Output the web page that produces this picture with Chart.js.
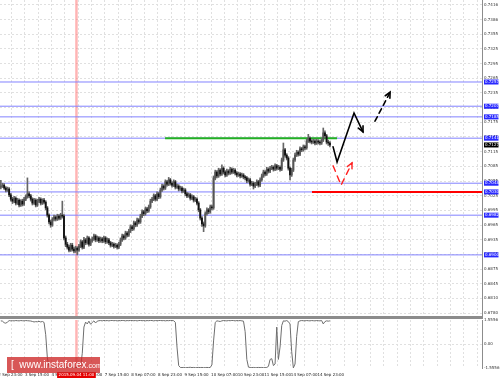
<!DOCTYPE html>
<html>
<head>
<meta charset="utf-8">
<script src="https://cdn.jsdelivr.net/npm/chart.js@4.4.1/dist/chart.umd.min.js"></script>
<style>
  html, body { margin: 0; padding: 0; background: #fff; }
  #wrap { position: relative; width: 500px; height: 378px; overflow: hidden; background: #fff; }
  #main { position: absolute; left: 0; top: 0; }
  #ind { position: absolute; left: 0; top: 318px; }
  #sep { position: absolute; left: 0; top: 316px; width: 483px; height: 3px; background: #8c8c8c; }
  #logo {
    position: absolute; left: 7px; top: 357px; width: 93px; height: 16px;
    background: rgba(205, 40, 40, 0.78); color: #fff;
    font: 10px "Liberation Sans", sans-serif; line-height: 16px; white-space: nowrap;
    box-sizing: border-box; padding-left: 4px;
  }
  #logo small { font-size: 7px; }
</style>
</head>
<body>
<div id="wrap">
  <canvas id="main" width="500" height="316"></canvas>
  <canvas id="ind" width="500" height="60"></canvas>
  <div id="sep"></div>
  <div id="logo">[ &nbsp;www.instaforex<small>.com</small> ]</div>
</div>
<script>
// H1 bars, AUDUSD-like, 2 Sep 23:00 .. 15 Sep
const timeLabels = ["2 Sep 23:00", "3 Sep 15:00", "4 Sep 07:00", "4 Sep 23:00", "7 Sep 15:00", "8 Sep 07:00",
  "8 Sep 23:00", "9 Sep 15:00", "10 Sep 07:00", "10 Sep 23:00", "11 Sep 15:00", "14 Sep 07:00", "14 Sep 23:00"];

const yTickLabels = ["0.6780", "0.6810", "0.6845", "0.6875", "0.6905", "0.6935", "0.6965", "0.6995", "0.7025", "0.7055",
  "0.7085", "0.7115", "0.7145", "0.7175", "0.7205", "0.7235", "0.7265", "0.7295", "0.7325", "0.7355", "0.7386", "0.7416"];

const firstOpen = 0.7040;
const closes = [
  0.7042, 0.7044, 0.7038, 0.7034, 0.7036, 0.7024, 0.7015, 0.7011, 0.7017, 0.7007,
  0.7013, 0.7003, 0.7011, 0.7005, 0.7015, 0.7020, 0.7026, 0.7022, 0.7015, 0.7007,
  0.7013, 0.7003, 0.7011, 0.7015, 0.7007, 0.7013, 0.7009, 0.6997, 0.6982, 0.6968,
  0.6962, 0.6974, 0.6978, 0.6974, 0.6980, 0.6976, 0.6982, 0.6980, 0.6935, 0.6922,
  0.6916, 0.6910, 0.6920, 0.6912, 0.6908, 0.6914, 0.6910, 0.6918, 0.6927, 0.6916,
  0.6931, 0.6925, 0.6935, 0.6922, 0.6929, 0.6933, 0.6939, 0.6931, 0.6935, 0.6929,
  0.6933, 0.6929, 0.6935, 0.6927, 0.6931, 0.6925, 0.6920, 0.6922, 0.6918, 0.6920,
  0.6916, 0.6922, 0.6931, 0.6939, 0.6935, 0.6945, 0.6941, 0.6949, 0.6958, 0.6954,
  0.6966, 0.6962, 0.6972, 0.6968, 0.6980, 0.6989, 0.6985, 0.6995, 0.6991, 0.6999,
  0.7011, 0.7015, 0.7022, 0.7015, 0.7026, 0.7020, 0.7034, 0.7042, 0.7038, 0.7051,
  0.7046, 0.7055, 0.7048, 0.7044, 0.7051, 0.7040, 0.7042, 0.7036, 0.7038, 0.7032,
  0.7034, 0.7026, 0.7022, 0.7024, 0.7017, 0.7020, 0.7013, 0.7015, 0.7007, 0.6993,
  0.6976, 0.6964, 0.6960, 0.6985, 0.6993, 0.6989, 0.6999, 0.6997, 0.7059, 0.7071,
  0.7063, 0.7075, 0.7067, 0.7079, 0.7071, 0.7065, 0.7073, 0.7069, 0.7077, 0.7071,
  0.7075, 0.7069, 0.7065, 0.7067, 0.7063, 0.7065, 0.7061, 0.7059, 0.7053, 0.7055,
  0.7046, 0.7048, 0.7042, 0.7046, 0.7051, 0.7044, 0.7055, 0.7063, 0.7071, 0.7067,
  0.7077, 0.7073, 0.7079, 0.7081, 0.7077, 0.7084, 0.7079, 0.7081, 0.7077, 0.7096,
  0.7117, 0.7106, 0.7100, 0.7079, 0.7065, 0.7075, 0.7096, 0.7106, 0.7112, 0.7108,
  0.7119, 0.7117, 0.7123, 0.7121, 0.7135, 0.7141, 0.7135, 0.7133, 0.7135, 0.7131,
  0.7135, 0.7133, 0.7131, 0.7137, 0.7152, 0.7146, 0.7133, 0.7131, 0.7127
];
const highs = [
  0.7054, 0.7048, 0.7047, 0.7041, 0.7040, 0.7039, 0.7027, 0.7019, 0.7021, 0.7020,
  0.7017, 0.7016, 0.7014, 0.7015, 0.7019, 0.7024, 0.7059, 0.7030, 0.7025, 0.7018,
  0.7017, 0.7016, 0.7015, 0.7019, 0.7018, 0.7016, 0.7017, 0.7012, 0.7000, 0.6985,
  0.6972, 0.6977, 0.6982, 0.6981, 0.6984, 0.6983, 0.6986, 0.7011, 0.6983, 0.6939,
  0.6926, 0.6920, 0.6924, 0.6924, 0.6916, 0.6918, 0.6917, 0.6922, 0.6931, 0.6930,
  0.6936, 0.6934, 0.6939, 0.6938, 0.6933, 0.6937, 0.6943, 0.6942, 0.6939, 0.6938,
  0.6937, 0.6936, 0.6939, 0.6938, 0.6935, 0.6934, 0.6928, 0.6926, 0.6925, 0.6924,
  0.6923, 0.6926, 0.6935, 0.6943, 0.6942, 0.6949, 0.6948, 0.6953, 0.6962, 0.6961,
  0.6970, 0.6969, 0.6976, 0.6975, 0.6984, 0.6993, 0.6992, 0.6999, 0.6998, 0.7003,
  0.7015, 0.7019, 0.7026, 0.7025, 0.7030, 0.7029, 0.7038, 0.7046, 0.7045, 0.7055,
  0.7054, 0.7060, 0.7058, 0.7051, 0.7055, 0.7054, 0.7046, 0.7045, 0.7042, 0.7041,
  0.7038, 0.7037, 0.7029, 0.7028, 0.7027, 0.7024, 0.7023, 0.7019, 0.7018, 0.7010,
  0.6996, 0.6979, 0.6968, 0.6989, 0.6997, 0.6996, 0.7003, 0.7003, 0.7063, 0.7075,
  0.7074, 0.7079, 0.7078, 0.7086, 0.7082, 0.7074, 0.7077, 0.7076, 0.7081, 0.7080,
  0.7079, 0.7078, 0.7072, 0.7071, 0.7070, 0.7069, 0.7068, 0.7064, 0.7062, 0.7059,
  0.7058, 0.7052, 0.7051, 0.7050, 0.7055, 0.7054, 0.7059, 0.7067, 0.7075, 0.7074,
  0.7081, 0.7080, 0.7083, 0.7085, 0.7084, 0.7088, 0.7087, 0.7085, 0.7084, 0.7100,
  0.7131, 0.7120, 0.7109, 0.7103, 0.7082, 0.7079, 0.7100, 0.7110, 0.7116, 0.7115,
  0.7123, 0.7122, 0.7127, 0.7126, 0.7139, 0.7149, 0.7144, 0.7138, 0.7139, 0.7138,
  0.7139, 0.7138, 0.7136, 0.7141, 0.7162, 0.7156, 0.7149, 0.7137, 0.7134
];
const lows = [
  0.7036, 0.7039, 0.7035, 0.7030, 0.7031, 0.7020, 0.7011, 0.7006, 0.7008, 0.7003,
  0.7004, 0.6999, 0.7000, 0.7001, 0.7002, 0.7012, 0.7017, 0.7018, 0.7011, 0.7003,
  0.7004, 0.6999, 0.7000, 0.7008, 0.7003, 0.7004, 0.7005, 0.6993, 0.6978, 0.6964,
  0.6957, 0.6959, 0.6970, 0.6970, 0.6971, 0.6972, 0.6973, 0.6976, 0.6931, 0.6917,
  0.6912, 0.6906, 0.6907, 0.6908, 0.6904, 0.6905, 0.6900, 0.6907, 0.6915, 0.6912,
  0.6913, 0.6921, 0.6922, 0.6918, 0.6919, 0.6926, 0.6930, 0.6927, 0.6928, 0.6925,
  0.6926, 0.6925, 0.6926, 0.6923, 0.6924, 0.6921, 0.6916, 0.6917, 0.6914, 0.6915,
  0.6912, 0.6913, 0.6919, 0.6928, 0.6931, 0.6932, 0.6937, 0.6938, 0.6946, 0.6950,
  0.6951, 0.6958, 0.6959, 0.6964, 0.6965, 0.6977, 0.6981, 0.6982, 0.6987, 0.6988,
  0.6996, 0.7008, 0.7012, 0.7011, 0.7012, 0.7016, 0.7017, 0.7031, 0.7034, 0.7035,
  0.7042, 0.7043, 0.7044, 0.7040, 0.7041, 0.7036, 0.7037, 0.7032, 0.7033, 0.7028,
  0.7029, 0.7022, 0.7018, 0.7019, 0.7013, 0.7014, 0.7009, 0.7010, 0.7003, 0.6989,
  0.6972, 0.6959, 0.6948, 0.6957, 0.6982, 0.6985, 0.6986, 0.6993, 0.6994, 0.7055,
  0.7059, 0.7060, 0.7063, 0.7064, 0.7067, 0.7061, 0.7062, 0.7065, 0.7066, 0.7067,
  0.7068, 0.7065, 0.7061, 0.7062, 0.7059, 0.7060, 0.7057, 0.7055, 0.7049, 0.7050,
  0.7042, 0.7043, 0.7036, 0.7039, 0.7043, 0.7040, 0.7041, 0.7052, 0.7060, 0.7063,
  0.7064, 0.7069, 0.7070, 0.7076, 0.7073, 0.7074, 0.7075, 0.7076, 0.7073, 0.7074,
  0.7093, 0.7102, 0.7096, 0.7075, 0.7055, 0.7062, 0.7072, 0.7093, 0.7103, 0.7104,
  0.7105, 0.7113, 0.7114, 0.7117, 0.7118, 0.7132, 0.7131, 0.7129, 0.7130, 0.7127,
  0.7128, 0.7129, 0.7127, 0.7128, 0.7134, 0.7142, 0.7129, 0.7126, 0.7123
];
const opens = [firstOpen].concat(closes.slice(0, -1));

// lower panel oscillator
const indValues = [
  1.50, 1.48, 1.38, 1.35, 1.42, 1.52, 1.50, 1.51, 1.50, 1.52,
  1.51, 1.50, 1.52, 1.51, 1.50, 1.52, 1.51, 1.50, 1.49, 1.46,
  1.43, 1.45, 1.44, 1.47, 1.43, 1.46, 1.40, 0.60, -0.90, -1.48,
  -1.53, -1.52, -1.54, -1.52, -1.53, -1.54, -1.52, -1.53, -1.52, -1.54,
  -1.53, -1.52, -1.53, -1.54, -1.52, -1.53, -1.52, -1.53, -1.50, -0.60,
  1.10, 1.42, 1.30, 1.48, 1.28, 1.40, 1.50, 1.36, 1.48, 1.51,
  1.52, 1.50, 1.53, 1.51, 1.52, 1.50, 1.52, 1.53, 1.51, 1.52,
  1.50, 1.52, 1.51, 1.53, 1.52, 1.50, 1.52, 1.51, 1.53, 1.52,
  1.51, 1.52, 1.50, 1.52, 1.53, 1.51, 1.52, 1.50, 1.52, 1.51,
  1.53, 1.52, 1.50, 1.52, 1.51, 1.52, 1.53, 1.51, 1.52, 1.50,
  1.52, 1.51, 1.53, 1.52, 1.51, 1.40, -0.20, -1.40, -1.52, -1.53,
  -1.52, -1.54, -1.53, -1.52, -1.51, -1.53, -1.52, -1.54, -1.53, -1.52,
  -1.53, -1.52, -1.54, -1.53, -1.52, -1.53, -1.52, -1.35, 0.20, 1.40,
  1.50, 1.48, 1.46, 1.50, 1.52, 1.51, 1.50, 1.52, 1.51, 1.53,
  1.52, 1.50, 1.52, 1.51, 1.52, 1.50, 1.48, 0.80, -1.00, -1.50,
  -1.52, -1.53, -1.52, -1.54, -1.53, -1.52, -1.53, -1.52, -1.54, -1.53,
  -1.52, -1.45, -1.00, -0.95, -1.40, -1.30, 1.10, -1.00, -0.20, 1.20,
  1.50, 1.48, 1.52, 1.45, 1.30, -0.50, -1.55, -1.30, 0.50, 1.45,
  1.50, 1.52, 1.51, 1.50, 1.52, 1.51, 1.50, 1.52, 1.51, 1.50,
  1.52, 1.51, 1.50, 1.52, 1.30, 1.45, 1.50, 1.48, 1.50
];
const indTickVals = [-1.5556, 0, 1.5556];
const indTickLabels = ["-1.5556", "0.00", "1.5556"];

// horizontal levels (blue), trend lines and forecast arrows
const levelValues = [0.7257, 0.7207, 0.7185, 0.7141, 0.7048, 0.7030, 0.6982, 0.6900];
const lastPrice = 0.7127;
const greenLine = [[98.8, 0.7141], [202.3, 0.7141]];
const redLine = [[187.2, 0.7030], [289.5, 0.7030]];
const mainPath = [[199.9, 0.7123], [202.3, 0.7092], [212.5, 0.7193], [217.9, 0.7154]];
const nextPath = [[225.1, 0.7176], [234.2, 0.7236]];
const altPath = [[199.9, 0.7084], [204.7, 0.7044], [211.3, 0.7090]];
const crosshairIdx = 45.5;
const crosshairText = "2015.09.04 11:00";

const slotMin = -0.5, slotMax = 289.5;
const gridIdx = [];
for (let v = -1.5; v < slotMax; v += 8) gridIdx.push(v);
const yStep = (0.7416 - 0.6780) / 21;
const yTickVals = yTickLabels.map((t, k) => 0.6780 + k * yStep);

const tinyFont = { family: "DejaVu Sans", size: 4 };
const gridColor = "#e0e0e0";

function arrowPath(ctx, xs, ys, pts, color, width, dash) {
  const p = pts.map(([i, v]) => [xs.getPixelForValue(i), ys.getPixelForValue(v)]);
  ctx.save();
  ctx.strokeStyle = color;
  ctx.lineWidth = width;
  ctx.lineCap = "round";
  ctx.setLineDash(dash);
  ctx.beginPath();
  p.forEach(([px, py], k) => (k ? ctx.lineTo(px, py) : ctx.moveTo(px, py)));
  ctx.stroke();
  const [x1, y1] = p[p.length - 2];
  const [x2, y2] = p[p.length - 1];
  const a = Math.atan2(y2 - y1, x2 - x1);
  const L = 6;
  ctx.setLineDash([]);
  ctx.beginPath();
  ctx.moveTo(x2 - L * Math.cos(a - 0.45), y2 - L * Math.sin(a - 0.45));
  ctx.lineTo(x2, y2);
  ctx.lineTo(x2 - L * Math.cos(a + 0.45), y2 - L * Math.sin(a + 0.45));
  ctx.stroke();
  ctx.restore();
}

function crosshair(chart) {
  const { ctx, chartArea, scales: { x } } = chart;
  const px = x.getPixelForValue(crosshairIdx);
  ctx.save();
  ctx.strokeStyle = "rgba(255, 120, 120, 0.55)";
  ctx.lineWidth = 2.5;
  ctx.beginPath();
  ctx.moveTo(px, chartArea.top);
  ctx.lineTo(px, chartArea.bottom);
  ctx.stroke();
  ctx.restore();
}

const mainDecor = {
  id: "mainDecor",
  beforeDatasetsDraw: crosshair,
  afterDatasetsDraw(chart) {
    const { ctx, scales: { x, y } } = chart;
    arrowPath(ctx, x, y, mainPath, "#000", 1.6, []);
    arrowPath(ctx, x, y, nextPath, "#000", 1.6, [5, 4]);
    arrowPath(ctx, x, y, altPath, "#ff2020", 1.4, [6, 5]);
  },
  afterDraw(chart) {
    const { ctx, scales: { y } } = chart;
    ctx.save();
    ctx.font = "4px 'DejaVu Sans'";
    ctx.textBaseline = "middle";
    levelValues.forEach(v => {
      const py = y.getPixelForValue(v);
      ctx.fillStyle = "#2828ff";
      ctx.fillRect(484, py - 2.5, 14.5, 5);
      ctx.fillStyle = "#fff";
      ctx.fillText(v.toFixed(4), 485, py);
    });
    const pl = y.getPixelForValue(lastPrice);
    ctx.fillStyle = "#000";
    ctx.fillRect(484, pl - 2.5, 14.5, 5);
    ctx.fillStyle = "#fff";
    ctx.fillText(lastPrice.toFixed(4), 485, pl);
    ctx.restore();
  }
};

const lineSet = (pts, color, width, order) => ({
  type: "line",
  data: pts.map(([i, v]) => ({ x: i, y: v })),
  borderColor: color,
  borderWidth: width,
  pointRadius: 0,
  order: order
});

const levelSets = levelValues.map(v => lineSet([[slotMin, v], [slotMax, v]], "#8282ff", 1, 6));

new Chart(document.getElementById("main"), {
  type: "bar",
  data: {
    datasets: [
      ...levelSets,
      lineSet(greenLine, "#22b022", 2, 3),
      lineSet(redLine, "#ff0000", 2, 3),
      {
        data: closes.map((c, i) => ({ x: i, y: [lows[i], highs[i]] })),
        backgroundColor: "#666",
        barThickness: 1,
        grouped: false,
        order: 2
      },
      {
        data: closes.map((c, i) => ({ x: i, y: [opens[i], c] })),
        backgroundColor: closes.map((c, i) => (c >= opens[i] ? "#555" : "#111")),
        barThickness: 1.2,
        minBarLength: 1,
        grouped: false,
        order: 1
      }
    ]
  },
  options: {
    responsive: false,
    animation: false,
    layout: { padding: 0 },
    plugins: { legend: { display: false }, tooltip: { enabled: false } },
    scales: {
      x: {
        type: "linear",
        min: slotMin,
        max: slotMax,
        offset: false,
        afterBuildTicks: a => { a.ticks = gridIdx.map(v => ({ value: v })); },
        ticks: { display: false },
        grid: { color: gridColor, drawTicks: false, offset: false },
        border: { display: false, dash: [2, 2] },
        afterFit: s => { s.height = 0; s.paddingLeft = 0; s.paddingRight = 0; }
      },
      y: {
        position: "right",
        min: 0.677381,
        max: 0.742632,
        afterBuildTicks: a => { a.ticks = yTickVals.map(v => ({ value: v })); },
        ticks: { callback: (v, i) => yTickLabels[i], font: tinyFont, color: "#333", padding: 2, autoSkip: false },
        grid: { color: gridColor, drawTicks: false },
        border: { display: true, color: "#8c8c8c", dash: [2, 2] },
        afterFit: s => { s.width = 18; s.paddingTop = 0; s.paddingBottom = 0; }
      }
    }
  },
  plugins: [mainDecor]
});

const indDecor = {
  id: "indDecor",
  beforeDatasetsDraw: crosshair,
  afterDraw(chart) {
    const { ctx, chartArea, scales: { x } } = chart;
    const px = x.getPixelForValue(crosshairIdx);
    ctx.save();
    ctx.font = "4px 'DejaVu Sans'";
    const w = ctx.measureText(crosshairText).width + 3;
    ctx.fillStyle = "#e60000";
    ctx.fillRect(px - w / 2, chartArea.bottom + 4, w, 6);
    ctx.fillStyle = "#fff";
    ctx.textAlign = "center";
    ctx.textBaseline = "middle";
    ctx.fillText(crosshairText, px, chartArea.bottom + 7);
    ctx.restore();
  }
};

new Chart(document.getElementById("ind"), {
  type: "line",
  data: {
    datasets: [{
      data: indValues.map((v, i) => ({ x: i, y: v })),
      borderColor: "#6e6e6e",
      borderWidth: 1,
      pointRadius: 0,
      tension: 0
    }]
  },
  options: {
    responsive: false,
    animation: false,
    layout: { padding: { top: 2, left: 0, right: 0, bottom: 0 } },
    plugins: { legend: { display: false }, tooltip: { enabled: false } },
    scales: {
      x: {
        type: "linear",
        min: slotMin,
        max: slotMax,
        afterBuildTicks: a => { a.ticks = gridIdx.map(v => ({ value: v })); },
        ticks: {
          callback: v => {
            const k = (v + 1.5) / 16;
            return Number.isInteger(k) ? (timeLabels[k] || "") : "";
          },
          font: tinyFont,
          color: "#222",
          align: "start",
          padding: 5,
          autoSkip: false,
          maxRotation: 0,
          minRotation: 0
        },
        grid: { color: gridColor, drawTicks: false },
        border: { display: false, dash: [2, 2] },
        afterFit: s => { s.height = 10; s.paddingLeft = 0; s.paddingRight = 0; }
      },
      y: {
        position: "right",
        min: -1.5556,
        max: 1.5556,
        afterBuildTicks: a => { a.ticks = indTickVals.map(v => ({ value: v })); },
        ticks: { callback: (v, i) => indTickLabels[i], font: tinyFont, color: "#333", padding: 2, autoSkip: false },
        grid: { color: c => (c.tick && c.tick.value === 0 ? gridColor : "rgba(0,0,0,0)"), drawTicks: false },
        border: { display: true, color: "#8c8c8c", dash: [2, 2] },
        afterFit: s => { s.width = 18; s.paddingTop = 0; s.paddingBottom = 0; }
      }
    }
  },
  plugins: [indDecor]
});
</script>
</body>
</html>
